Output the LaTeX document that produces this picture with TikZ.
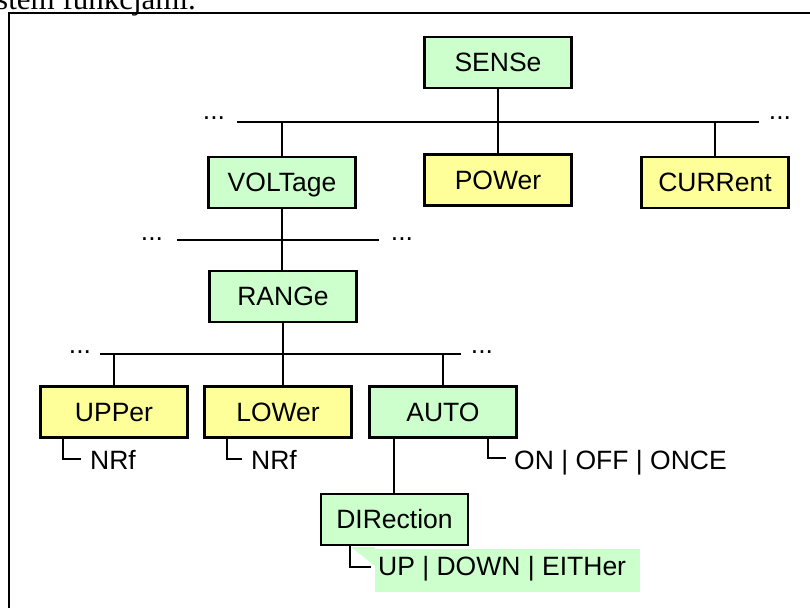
\documentclass[tikz,border=0pt]{standalone}
\usepackage{fontspec}
\setmainfont{Liberation Sans}
\newfontfamily\serifface{Liberation Serif}
\definecolor{boxgreen}{HTML}{CCFFCC}
\definecolor{boxyellow}{HTML}{FFFF99}
\tikzset{
  cmdbox/.style={draw=black, line width=2.6pt, minimum width=147pt, minimum height=51pt,
    inner sep=0pt, text height=18.8pt, text depth=0pt, font=\fontsize{26.5}{30}\selectfont},
  gbox/.style={cmdbox, fill=boxgreen},
  ybox/.style={cmdbox, fill=boxyellow},
  conn/.style={line width=1.6pt},
  lbl/.style={anchor=base west, inner sep=0pt, font=\fontsize{26.5}{30}\selectfont},
  dots/.style={anchor=base, inner sep=0pt, font=\fontsize{26.5}{30}\selectfont},
}
\begin{document}
\begin{tikzpicture}[x=1pt,y=-1pt]
\useasboundingbox (0,0) rectangle (810,607);
% page text cut at the top
\node[anchor=base west, inner sep=0pt, font=\serifface\fontsize{31}{36}\selectfont] (pagetext) at (-4,9.3) {stem funkcjami.};
% frame
\coordinate (fbl) at (9,608);
\coordinate (ftl) at (9,13);
\coordinate (ftr) at (811,13);
\draw[line width=1.8pt] (fbl) -- (ftl) -- (ftr);

% boxes
\node[gbox] (sense) at (498,62.5) {SENSe};
\node[gbox] (volt) at (282,182.5) {VOLTage};
\node[ybox] (power) at (498,180) {POWer};
\node[ybox] (curr) at (715,182.5) {CURRent};
\node[gbox] (range) at (283,296.5) {RANGe};
\node[ybox] (upper) at (114,412) {UPPer};
\node[ybox] (lower) at (278,412) {LOWer};
\node[gbox] (auto) at (443,412) {AUTO};
\node[gbox] (dir) at (394.5,519.5) {DIRection};

% bus 1
\coordinate (b1l) at (237,122);
\coordinate (b1r) at (759,122);
\draw[conn] (b1l) -- (b1r);
\node[dots] (d1l) at (214,120) {...};
\node[dots] (d1r) at (780,120) {...};
\draw[conn] (sense.south) -- (power.north);
\draw[conn] (volt.north |- b1l) -- (volt.north);
\draw[conn] (curr.north |- b1l) -- (curr.north);

% bus 2
\coordinate (b2l) at (177,240);
\coordinate (b2r) at (379,240);
\draw[conn] (b2l) -- (b2r);
\node[dots] (d2l) at (152,240) {...};
\node[dots] (d2r) at (402,240) {...};
\draw[conn] (volt.south) -- (range.north -| volt.south);

% bus 3
\coordinate (b3l) at (100,354);
\coordinate (b3r) at (461,354);
\coordinate (b3a) at (262,354);
\coordinate (b3b) at (299,354);
\draw[line width=1.3pt] (b3l) -- (b3r);
\draw[line width=2pt] (b3a) -- (b3b);
\node[dots] (d3l) at (80,353) {...};
\node[dots] (d3r) at (482,353) {...};
\draw[conn] (range.south) -- (lower.north -| range.south);
\draw[conn] (upper.north |- b3l) -- (upper.north);
\draw[conn] (auto.north |- b3l) -- (auto.north);

% AUTO to DIRection
\coordinate (ad) at (394,439);
\draw[conn] (ad) -- (dir.north -| ad);

% parameter labels
\coordinate (u1) at (63,439);
\coordinate (u2) at (63,459);
\coordinate (u3) at (81,459);
\draw[conn] (u1) -- (u2) -- (u3);
\node[lbl] (unrf) at (90,469) {NRf};

\coordinate (l1) at (227,439);
\coordinate (l2) at (227,459);
\coordinate (l3) at (242,459);
\draw[conn] (l1) -- (l2) -- (l3);
\node[lbl] (lnrf) at (251,469) {NRf};

\coordinate (a1) at (488,439);
\coordinate (a2) at (488,458);
\coordinate (a3) at (506,458);
\draw[conn] (a1) -- (a2) -- (a3);
\node[lbl] (aval) at (514,469) {ON | OFF | ONCE};

% DIRection parameter with green background
\fill[boxgreen] (375,549) rectangle (640,592);
\fill[boxgreen] (351,547) -- (375,547) -- (375,566) -- cycle;
\coordinate (x1) at (350,546);
\coordinate (x2) at (350,567);
\coordinate (x3) at (371,567);
\draw[conn] (x1) -- (x2) -- (x3);
\node[lbl] (dval) at (378,575) {UP | DOWN | EITHer};
\end{tikzpicture}
\end{document}
